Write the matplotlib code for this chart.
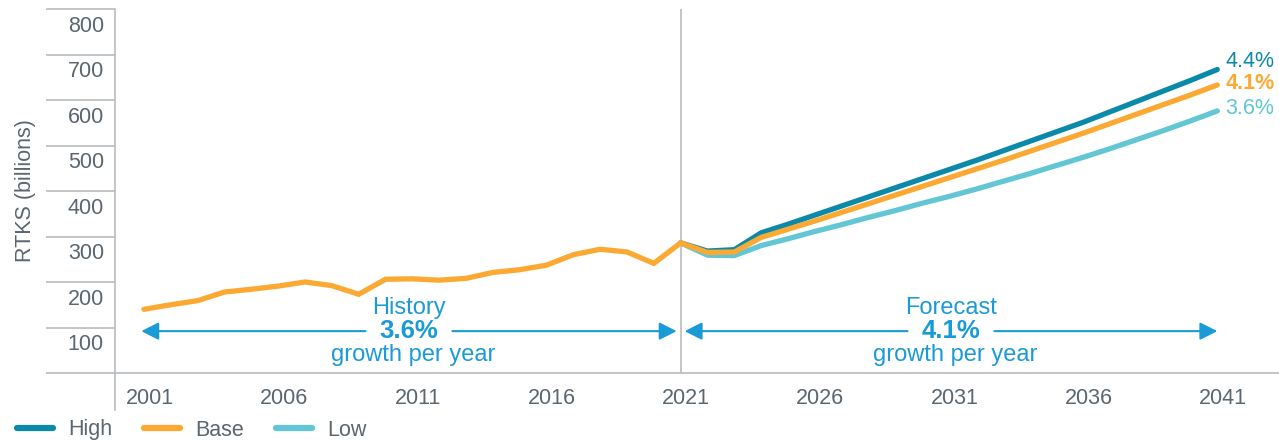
import numpy as np
import matplotlib.pyplot as plt

plt.rcParams['font.family'] = ['Liberation Sans', 'DejaVu Sans']

# data (RTKs, billions)
hist_years = list(range(2001, 2022))
hist_base = [140, 150, 159, 178, 184, 191, 200, 192, 173, 206, 207, 204, 208,
             221, 227, 237, 260, 272, 266, 241, 286]

fc_years = list(range(2021, 2042))
fc_high = [286, 268, 271, 308, 327, 347, 367, 387, 407, 427, 447, 467, 488,
           509, 530, 551, 574, 597, 620, 643, 667]
fc_base = [286, 265, 266, 298, 316, 334, 353, 372, 391, 410, 429, 448, 467,
           487, 507, 527, 548, 569, 590, 611, 633]
fc_low = [286, 259, 258, 280, 295, 311, 326, 342, 357, 373, 388, 404, 421,
          438, 456, 474, 493, 513, 533, 554, 576]

growth_labels = ['4.4%', '4.1%', '3.6%']
y_ticks = [0, 100, 200, 300, 400, 500, 600, 700, 800]
x_ticks = [2001, 2006, 2011, 2016, 2021, 2026, 2031, 2036, 2041]

c_high = '#0a8aa8'
c_base = '#fba932'
c_low = '#62c6d4'
c_note = '#1b9ad8'
c_text = '#5b6670'
c_axis = '#b8bcc0'
fs = 15.5

fig = plt.figure(figsize=(12.79, 4.41), dpi=100)
ax = fig.add_axes([115 / 1279, 68 / 441, 1 - 115 / 1279, 364 / 441])

lw = 3.8
ax.plot(fc_years, fc_high, color=c_high, lw=lw, solid_capstyle='round', label='High', zorder=3)
ax.plot(fc_years, fc_low, color=c_low, lw=lw, solid_capstyle='round', label='Low', zorder=3)
base_years = hist_years + fc_years[1:]
base_vals = hist_base + fc_base[1:]
ax.plot(base_years, base_vals, color=c_base, lw=lw, solid_capstyle='round',
        solid_joinstyle='miter', label='Base', zorder=4)

ax.set_xlim(1999.92, 2043.3)
ax.set_ylim(0, 800)

# divider between history and forecast
ax.axvline(2021, color=c_axis, lw=1.2, zorder=1)

# axes styling
for s in ['top', 'right']:
    ax.spines[s].set_visible(False)
ax.spines['left'].set_color(c_axis)
ax.spines['bottom'].set_color(c_axis)
ax.spines['left'].set_linewidth(1.2)
ax.spines['bottom'].set_linewidth(1.2)
# extend the left spine below the x axis
ax.plot([0, 0], [0, -0.102], transform=ax.transAxes, color=c_axis, lw=1.2,
        clip_on=False)

ax.set_yticks(y_ticks)
ax.tick_params(axis='y', length=50, width=1.2, color=c_axis, labelleft=False)
for v in y_ticks[1:]:
    ax.annotate(str(v), xy=(0, v), xycoords=('axes fraction', 'data'),
                xytext=(-8, -12.5), textcoords='offset points',
                ha='right', va='center', fontsize=fs, color=c_text)

ax.set_xticks(x_ticks)
ax.set_xticklabels([])
ax.tick_params(axis='x', length=0)
for yr in x_ticks:
    ax.annotate(str(yr), xy=(yr, 0), xycoords=('data', 'axes fraction'),
                xytext=(4, -18.5), textcoords='offset points',
                ha='center', va='center', fontsize=fs, color=c_text)

fig.text(25 / 1279, 1 - 191 / 441, 'RTKS (billions)', rotation=90,
         ha='center', va='center', fontsize=fs, color=c_text)

# end-of-line growth labels
ends = [(fc_high[-1], c_high, 'normal', 5.5),
        (fc_base[-1], c_base, 'bold', 1.0),
        (fc_low[-1], c_low, 'normal', 2.0)]
for lab, (val, col, wt, dy) in zip(growth_labels, ends):
    ax.annotate(lab, xy=(fc_years[-1], val), xytext=(6, dy),
                textcoords='offset points', ha='left', va='center',
                fontsize=fs, color=col, fontweight=wt, annotation_clip=False)


def span_note(x0, x1, title, pct):
    xm = (x0 + x1) / 2
    gap = 1.62
    yv = 92
    arrow = dict(arrowstyle='-|>,head_length=0.75,head_width=0.38',
                 color=c_note, lw=1.5, shrinkA=0, shrinkB=0, mutation_scale=14)
    ax.annotate('', xy=(x0, yv), xytext=(xm - gap, yv), arrowprops=arrow)
    ax.annotate('', xy=(x1, yv), xytext=(xm + gap, yv), arrowprops=arrow)
    ax.text(xm, 142, title, ha='center', va='center', fontsize=17, color=c_note)
    ax.text(xm, yv, pct, ha='center', va='center', fontsize=18.5,
            fontweight='bold', color=c_note)
    ax.text(xm + 0.15, 39, 'growth per year', ha='center', va='center',
            fontsize=17, color=c_note)


span_note(2000.9, 2020.85, 'History', '3.6%')
span_note(2021.15, 2041.0, 'Forecast', '4.1%')

# legend under the chart
handles, labels = ax.get_legend_handles_labels()
order = [labels.index(n) for n in ['High', 'Base', 'Low']]
leg = fig.legend([plt.Line2D([], [], color=h.get_color(), lw=4.5, solid_capstyle='round')
                  for h in [handles[i] for i in order]],
                 [labels[i] for i in order],
                 loc='center left', bbox_to_anchor=(17 / 1279, 1 - 430 / 441),
                 ncol=3, frameon=False, fontsize=fs, handlelength=1.68,
                 handletextpad=0.7, columnspacing=1.48, borderpad=0,
                 borderaxespad=0)
for t in leg.get_texts():
    t.set_color(c_text)

plt.savefig('out.png', dpi=100)
